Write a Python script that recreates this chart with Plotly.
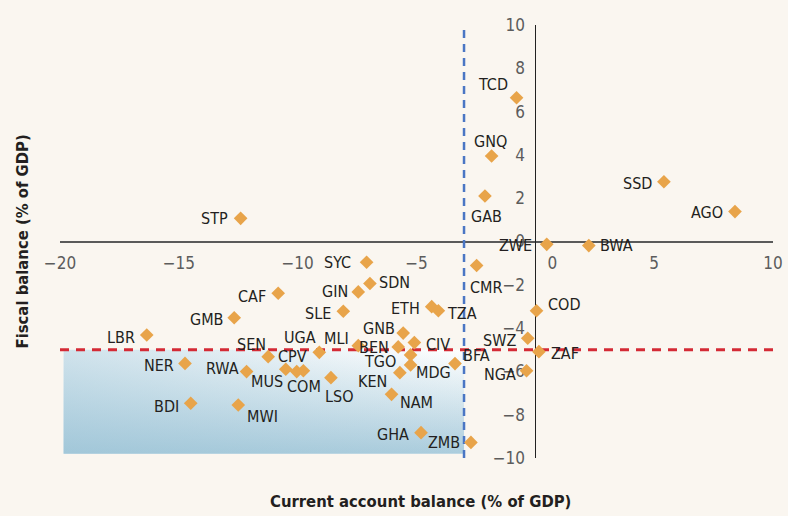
import plotly.graph_objects as go

# ---- data ----
countries = ["STP", "TCD", "GNQ", "GAB", "SSD", "AGO", "ZWE", "BWA", "SYC", "SDN",
             "GIN", "CAF", "SLE", "GMB", "LBR", "ETH", "TZA", "GNB", "CIV", "MLI",
             "UGA", "SEN", "BEN", "NER", "CPV", "MUS", "COM", "RWA", "LSO", "TGO",
             "MDG", "KEN", "NAM", "BDI", "MWI", "GHA", "ZMB", "BFA", "CMR", "COD",
             "SWZ", "ZAF", "NGA"]
current_account = [-12.40, -0.79, -1.84, -2.12, 5.41, 8.40, 0.48, 2.25, -7.10, -6.96,
                   -7.45, -10.82, -8.08, -12.67, -16.35, -4.36, -4.08, -5.56, -5.09, -7.45,
                   -9.09, -11.24, -5.77, -14.74, -9.76, -10.50, -10.04, -12.15, -8.60, -5.25,
                   -5.25, -5.70, -6.05, -14.50, -12.50, -4.81, -2.71, -3.38, -2.47, 0.05,
                   -0.32, 0.15, -0.37]
fiscal_balance = [1.07, 6.64, 3.95, 2.10, 2.76, 1.38, -0.13, -0.19, -0.96, -1.94,
                  -2.33, -2.39, -3.22, -3.52, -4.32, -3.01, -3.20, -4.23, -4.67, -4.81,
                  -5.12, -5.32, -4.87, -5.63, -5.97, -5.90, -6.01, -6.01, -6.29, -5.24,
                  -5.70, -6.06, -7.06, -7.47, -7.55, -8.83, -9.28, -5.64, -1.11, -3.20,
                  -4.47, -5.09, -5.97]

fiscal_threshold = -5     # red dashed line
ca_threshold = -3         # blue dashed line
zone_x = [-19.85, ca_threshold]
zone_y = [fiscal_threshold, -9.8]

x_ticks = [-20, -15, -10, -5, 0, 5, 10]
x_ticktext = ["\u221220", "\u221215", "\u221210", "\u22125", "\u00a0" * 7 + "0", "5", "10"]
y_ticks = [-10, -8, -6, -4, -2, 0, 2, 4, 6, 8, 10]
y_ticktext = ["\u221210", "\u22128", "\u22126", "\u22124", "\u22122", "0", "2", "4", "6", "8", "10"]

# label placement: (anchor, dx px, dy px downward)
label_pos = {
    "STP": ("right", -12, 0), "TCD": ("right", -8, -13), "GNQ": ("center", -1, -14),
    "GAB": ("center", 2, 20), "SSD": ("right", -11, 2), "AGO": ("right", -11, 1),
    "ZWE": ("right", -14, 1), "BWA": ("left", 10, 0), "SYC": ("right", -15, 0),
    "SDN": ("left", 8, -1), "GIN": ("right", -9, 0), "CAF": ("right", -11, 3),
    "SLE": ("right", -11, 2), "GMB": ("right", -10, 2), "LBR": ("right", -11, 2),
    "ETH": ("right", -11, 2), "TZA": ("left", 8, 3), "GNB": ("right", -7, -5),
    "CIV": ("left", 11, 2), "MLI": ("right", -8, -7), "UGA": ("center", -19, -15),
    "SEN": ("center", -17, -12), "BEN": ("right", -8, 1), "NER": ("right", -10, 2),
    "CPV": ("center", -11, -14), "MUS": ("center", -19, 12), "COM": ("center", 7, 15),
    "RWA": ("right", -7, -3), "LSO": ("center", 8, 19), "TGO": ("right", -14, 7),
    "MDG": ("left", 4, 8), "KEN": ("right", -12, 9), "NAM": ("left", 7, 8),
    "BDI": ("right", -11, 3), "MWI": ("left", 8, 12), "GHA": ("right", -11, 2),
    "ZMB": ("right", -10, 0), "BFA": ("left", 7, -8), "CMR": ("center", 9, 22),
    "COD": ("left", 10, -6), "SWZ": ("right", -11, 2), "ZAF": ("left", 11, 2),
    "NGA": ("right", -10, 4),
}

FONT = "Liberation Sans Narrow, DejaVu Sans Condensed, Arial Narrow, sans-serif"
BG = "#faf6f0"
BLUE = "150,192,212"

fig = go.Figure()

rx = [zone_x[0], zone_x[1], zone_x[1], zone_x[0], zone_x[0]]
ry = [zone_y[0], zone_y[0], zone_y[1], zone_y[1], zone_y[0]]
# base white
fig.add_trace(go.Scatter(x=rx, y=ry, mode="lines", fill="toself", fillcolor="white",
                         line=dict(width=0), hoverinfo="skip", showlegend=False))
# vertical gradient
fig.add_trace(go.Scatter(x=rx, y=ry, mode="lines", fill="toself",
                         fillgradient=dict(type="vertical",
                                           colorscale=[[0, f"rgba({BLUE},0.8)"], [1, f"rgba({BLUE},0.0)"]]),
                         line=dict(width=0), hoverinfo="skip", showlegend=False))
# horizontal gradient
fig.add_trace(go.Scatter(x=rx, y=ry, mode="lines", fill="toself",
                         fillgradient=dict(type="horizontal",
                                           colorscale=[[0, f"rgba({BLUE},0.45)"], [1, f"rgba({BLUE},0.0)"]]),
                         line=dict(width=0), hoverinfo="skip", showlegend=False))

# threshold lines
fig.add_trace(go.Scatter(x=[-20, 10], y=[fiscal_threshold, fiscal_threshold], mode="lines",
                         line=dict(color="#d42a35", width=3, dash="9px,7px"),
                         hoverinfo="skip", showlegend=False, cliponaxis=False))
fig.add_trace(go.Scatter(x=[ca_threshold, ca_threshold], y=[-10, 10], mode="lines",
                         line=dict(color="#4a76c4", width=2.5, dash="8px,6px"),
                         hoverinfo="skip", showlegend=False, cliponaxis=False))

# markers
fig.add_trace(go.Scatter(x=current_account, y=fiscal_balance, mode="markers",
                         marker=dict(symbol="diamond", size=10.5, color="#e8a44a"),
                         text=countries, hoverinfo="text", showlegend=False, cliponaxis=False))

for c, xv, yv in zip(countries, current_account, fiscal_balance):
    anchor, dx, dy = label_pos[c]
    fig.add_annotation(x=xv, y=yv, xref="x", yref="y", text=c, showarrow=False,
                       xanchor=anchor, yanchor="middle", xshift=dx, yshift=-dy,
                       font=dict(family=FONT, size=16, color="#231f20"), borderpad=0)

fig.update_layout(
    width=788, height=516,
    margin=dict(l=60, r=15, t=25, b=58),
    paper_bgcolor=BG, plot_bgcolor=BG,
    font=dict(family=FONT),
    xaxis=dict(range=[-20, 10], anchor="free", position=0.5, showgrid=False, zeroline=False,
               showline=True, linecolor="#5a5a5a", linewidth=1.5, ticks="", automargin=False,
               tickvals=x_ticks, ticktext=x_ticktext, ticklabelstandoff=6,
               tickfont=dict(family=FONT, size=17, color="#5c5c5c"), layer="below traces",
               fixedrange=True),
    yaxis=dict(range=[-10, 10], anchor="free", position=2 / 3, showgrid=False, zeroline=False,
               showline=True, linecolor="#222222", linewidth=1, ticks="", automargin=False,
               tickvals=y_ticks, ticktext=y_ticktext, ticklabelstandoff=7,
               tickfont=dict(family=FONT, size=17, color="#5c5c5c"), layer="below traces",
               fixedrange=True),
    annotations=list(fig.layout.annotations) + [
        dict(text="<b>Current account balance (% of GDP)</b>", xref="paper", yref="paper",
             x=0.505, y=-0.1, yanchor="middle", xanchor="center", showarrow=False,
             font=dict(family=FONT, size=16.5, color="#231f20")),
        dict(text="<b>Fiscal balance (% of GDP)</b>", xref="paper", yref="paper",
             x=0, y=0.5, xanchor="center", yanchor="middle", showarrow=False, textangle=-90,
             xshift=-38, font=dict(family=FONT, size=16.5, color="#231f20")),
    ],
)

fig.write_html("out.html", config={"displayModeBar": False},
               post_script="document.body.style.margin='0';document.body.style.background='" + BG + "';")
